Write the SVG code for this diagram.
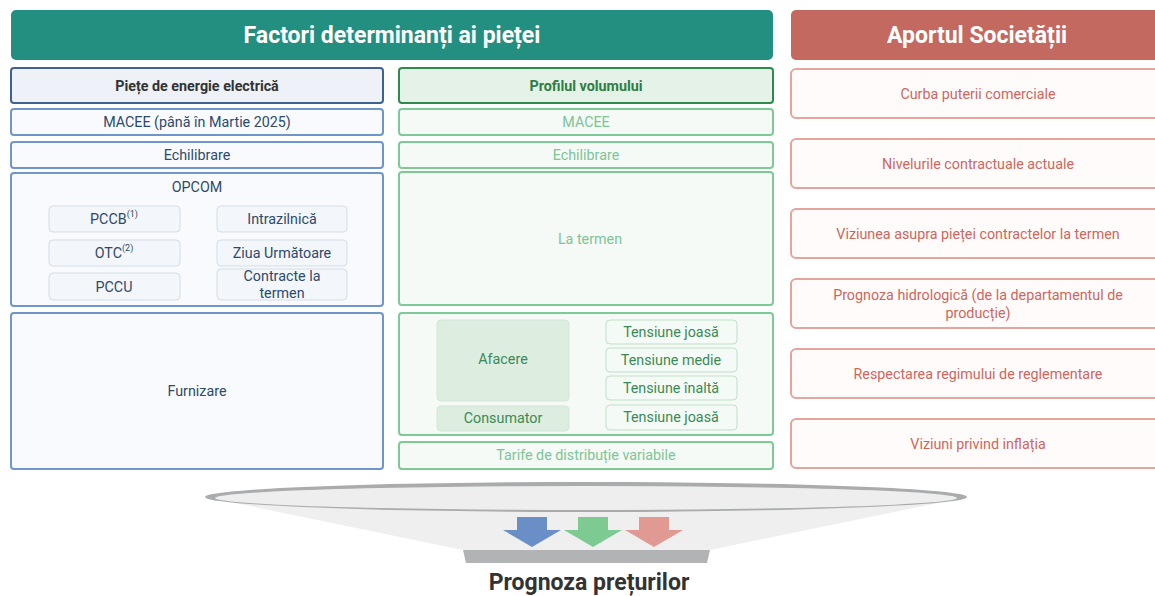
<svg xmlns="http://www.w3.org/2000/svg" width="1155" height="596" viewBox="0 0 1155 596">
<defs>
<style>
text{font-family:Roboto,"Liberation Sans",sans-serif;text-anchor:middle;dominant-baseline:central}
.hdr{font-size:23px;font-weight:bold;fill:#fff}
.bb{fill:#f8fafd;stroke:#6f96ca;stroke-width:2}
.bt{font-size:14.3px;fill:#2d4a6c}
.bs{fill:#f3f6fa;stroke:#d3dde9;stroke-width:1}
.gb{fill:#f5faf6;stroke:#7dca96;stroke-width:2}
.gt{font-size:14.3px;fill:#7cc596}
.gs{fill:#f4faf5;stroke:#bfe0c8;stroke-width:1}
.gd{font-size:14.3px;fill:#3b8a56}
.rb{fill:#fffbfb;stroke:#e3a59c;stroke-width:2}
.rt{font-size:14.3px;fill:#d0665b}
</style>
</defs>
<g id="header-factori">
<rect x="11" y="10" width="762" height="50" rx="5" fill="#238f80"/>
<text class="hdr" x="392" y="35">Factori determinanți ai pieței</text>
</g>
<g id="header-aportul">
<rect x="791" y="10" width="374" height="50" rx="5" fill="#c4695f"/>
<text class="hdr" x="977" y="35">Aportul Societății</text>
</g>
<g id="piete">
<rect x="11" y="68" width="372" height="35" rx="3" fill="#eef1f7" stroke="#3f6294" stroke-width="2"/>
<text x="197" y="86" style="font-size:14.3px;font-weight:bold;fill:#333">Piețe de energie electrică</text>
</g>
<g id="macee-l"><rect class="bb" x="11" y="109" width="372" height="26" rx="3"/><text class="bt" x="197" y="122">MACEE (până în Martie 2025)</text></g>
<g id="echilibrare-l"><rect class="bb" x="11" y="142" width="372" height="26" rx="3"/><text class="bt" x="197" y="155">Echilibrare</text></g>
<g id="opcom">
<rect class="bb" x="11" y="173" width="372" height="133" rx="3"/>
<text class="bt" x="197" y="187">OPCOM</text>
<rect class="bs" x="49" y="206" width="131" height="26" rx="4"/><text class="bt" x="114" y="219">PCCB<tspan dy="-5" style="font-size:9px">(1)</tspan></text>
<rect class="bs" x="49" y="240" width="131" height="26" rx="4"/><text class="bt" x="114" y="253">OTC<tspan dy="-5" style="font-size:9px">(2)</tspan></text>
<rect class="bs" x="49" y="273" width="131" height="27" rx="4"/><text class="bt" x="114" y="287">PCCU</text>
<rect class="bs" x="217" y="206" width="130" height="26" rx="4"/><text class="bt" x="282" y="219">Intrazilnică</text>
<rect class="bs" x="217" y="240" width="130" height="26" rx="4"/><text class="bt" x="282" y="253">Ziua Următoare</text>
<rect class="bs" x="217" y="269" width="130" height="31" rx="4"/><text class="bt" x="282" y="276">Contracte la</text><text class="bt" x="282" y="293">termen</text>
</g>
<g id="furnizare"><rect class="bb" x="11" y="313" width="372" height="156" rx="3"/><text class="bt" x="197" y="391">Furnizare</text></g>

<g id="profil">
<rect x="399" y="68" width="374" height="35" rx="3" fill="#e4f2e7" stroke="#2e8b4c" stroke-width="2"/>
<text x="586" y="86" style="font-size:14.3px;font-weight:bold;fill:#2e7d45">Profilul volumului</text>
</g>
<g id="macee-m"><rect class="gb" x="399" y="109" width="374" height="26" rx="3"/><text class="gt" x="586" y="122">MACEE</text></g>
<g id="echilibrare-m"><rect class="gb" x="399" y="142" width="374" height="26" rx="3"/><text class="gt" x="586" y="155">Echilibrare</text></g>
<g id="la-termen"><rect class="gb" x="399" y="172" width="374" height="133" rx="3"/><text class="gt" x="590" y="239">La termen</text></g>
<g id="consum">
<rect class="gb" x="399" y="313" width="374" height="122" rx="3"/>
<rect x="437" y="320" width="132" height="81" rx="4" fill="#ddeee1" stroke="#d0e6d6"/><text class="gd" x="503" y="359">Afacere</text>
<rect x="437" y="406" width="132" height="25" rx="4" fill="#ddeee1" stroke="#d0e6d6"/><text class="gd" x="503" y="418">Consumator</text>
<rect class="gs" x="606" y="320" width="131" height="24" rx="4"/><text class="gd" x="671" y="332">Tensiune joasă</text>
<rect class="gs" x="606" y="348" width="131" height="24" rx="4"/><text class="gd" x="671" y="360">Tensiune medie</text>
<rect class="gs" x="606" y="376" width="131" height="24" rx="4"/><text class="gd" x="671" y="388">Tensiune înaltă</text>
<rect class="gs" x="606" y="405" width="131" height="25" rx="4"/><text class="gd" x="671" y="417">Tensiune joasă</text>
</g>
<g id="tarife"><rect class="gb" x="399" y="442" width="374" height="27" rx="3"/><text class="gt" x="586" y="455">Tarife de distribuție variabile</text></g>

<g id="curba"><rect class="rb" x="791" y="69" width="374" height="49" rx="5"/><text class="rt" x="978" y="94">Curba puterii comerciale</text></g>
<g id="nivelurile"><rect class="rb" x="791" y="139" width="374" height="49" rx="5"/><text class="rt" x="978" y="164">Nivelurile contractuale actuale</text></g>
<g id="viziunea"><rect class="rb" x="791" y="209" width="374" height="49" rx="5"/><text class="rt" x="978" y="234">Viziunea asupra pieței contractelor la termen</text></g>
<g id="prognoza-hidro"><rect class="rb" x="791" y="279" width="374" height="49" rx="5"/><text class="rt" x="978" y="295">Prognoza hidrologică (de la departamentul de</text><text class="rt" x="978" y="313">producție)</text></g>
<g id="respectarea"><rect class="rb" x="791" y="349" width="374" height="49" rx="5"/><text class="rt" x="978" y="374">Respectarea regimului de reglementare</text></g>
<g id="inflatia"><rect class="rb" x="791" y="419" width="374" height="49" rx="5"/><text class="rt" x="978" y="444">Viziuni privind inflația</text></g>

<g id="funnel">
<path d="M206 497 L463 550 L710 550 L967 497 Z" fill="#efefef"/>
<ellipse cx="586" cy="497" rx="381" ry="15" fill="#a9abac"/>
<ellipse cx="586" cy="498" rx="371" ry="12" fill="#eeeeee"/>
<path d="M463 550 L710 550 L707 563 L466 563 Z" fill="#b1b3b4"/>
</g>
<g id="connectors">
<path d="M517 517 L547 517 L547 530 L561 530 L532 547 L503 530 L517 530 Z" fill="#6a8fc6"/>
<path d="M578 517 L608 517 L608 530 L622 530 L593 547 L564 530 L578 530 Z" fill="#7dcb93"/>
<path d="M639 517 L669 517 L669 530 L683 530 L654 547 L625 530 L639 530 Z" fill="#e09a93"/>
</g>
<g id="prognoza-preturilor"><text x="589" y="582" style="font-size:23px;font-weight:bold;fill:#333">Prognoza prețurilor</text></g>
</svg>
